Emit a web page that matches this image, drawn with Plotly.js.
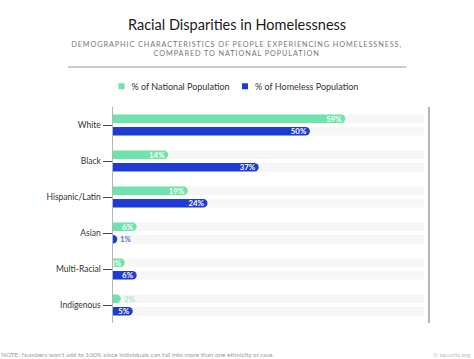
<!DOCTYPE html>
<html>
<head>
<meta charset="utf-8">
<script src="https://cdn.plot.ly/plotly-3.0.1.min.js"></script>
<style>
html,body{margin:0;padding:0;background:#fff;}
#chart{width:474px;height:359px;}
</style>
</head>
<body>
<div id="chart"></div>
<script>
const categories = ["White", "Black", "Hispanic/Latin", "Asian", "Multi-Racial", "Indigenous"];
const nationalPct = [59, 14, 19, 6, 3, 2];
const homelessPct = [50, 37, 24, 1, 6, 5];
const trackMax = 79;
const trackValues = categories.map(() => trackMax);

const GREEN = "#6fe3ad";
const BLUE = "#1f3bd6";
const FONT = "Lato, 'Open Sans', sans-serif";

function pos(vals){ return vals.map(v => v < 3 ? "outside" : "inside"); }
function tcol(vals, c){ return vals.map(v => v < 3 ? c : "#ffffff"); }

const W = 0.235;
const OFF_N = -0.29, OFF_H = 0.055;

const traces = [
  {type:"bar", orientation:"h", y:categories, x:trackValues, offset:OFF_N, width:W,
   marker:{color:"#f6f6f6"}, showlegend:false, hoverinfo:"skip"},
  {type:"bar", orientation:"h", y:categories, x:trackValues, offset:OFF_H, width:W,
   marker:{color:"#f6f6f6"}, showlegend:false, hoverinfo:"skip"},
  {type:"bar", orientation:"h", name:"% of National Population", y:categories, x:nationalPct,
   offset:OFF_N, width:W, marker:{color:GREEN},
   text:nationalPct.map(v => v + "%"), textposition:pos(nationalPct), insidetextanchor:"end",
   textfont:{family:FONT, size:7.8, weight:"bold", color:tcol(nationalPct, "#9ee9c6")},
   cliponaxis:false, constraintext:"none"},
  {type:"bar", orientation:"h", name:"% of Homeless Population", y:categories, x:homelessPct,
   offset:OFF_H, width:W, marker:{color:BLUE},
   text:homelessPct.map(v => v + "%"), textposition:pos(homelessPct), insidetextanchor:"end",
   textfont:{family:FONT, size:7.8, weight:"bold", color:tcol(homelessPct, "#5a6fe0")},
   cliponaxis:false, constraintext:"none"}
];

const layout = {
  width:474, height:359,
  margin:{l:113, r:46, t:107, b:36},
  paper_bgcolor:"#ffffff", plot_bgcolor:"#ffffff",
  barmode:"overlay",
  font:{family:FONT, color:"#333"},
  uniformtext:{mode:"show", minsize:7.8},
  showlegend:true,
  legend:{orientation:"h", x:0.5, xanchor:"center", y:0.76, yref:"container", yanchor:"middle",
          bgcolor:"rgba(0,0,0,0)", font:{size:9, color:"#333"}, traceorder:"normal"},
  xaxis:{range:[0,80], showgrid:false, zeroline:false, showticklabels:false, showline:false, fixedrange:true},
  yaxis:{type:"category", categoryorder:"array", categoryarray:categories, range:[5.5,-0.5],
         autorange:false, showline:true, linecolor:"#b5b5b5", linewidth:1.5, mirror:true,
         ticks:"outside", ticklen:9, tickcolor:"#444", tickwidth:1, showgrid:false,
         tickfont:{size:8.5, color:"#333"}, fixedrange:true},
  shapes:[
    {type:"line", xref:"paper", yref:"paper", x0:-0.143, x1:0.931, y0:1.185, y1:1.185,
     line:{color:"#9a9a9a", width:1}}
  ],
  annotations:[
    {text:"Racial Disparities in Homelessness", xref:"paper", yref:"paper", x:0.394, y:1.38,
     xanchor:"center", yanchor:"middle", showarrow:false, font:{size:14.5, color:"#1a1a1a"}},
    {text:"DEMOGRAPHIC CHARACTERISTICS OF PEOPLE EXPERIENCING HOMELESSNESS,<br>COMPARED TO NATIONAL POPULATION",
     xref:"paper", yref:"paper", x:0.394, y:1.27, xanchor:"center", yanchor:"middle", showarrow:false,
     align:"center", font:{size:7.3, color:"#777"}},
    {text:"NOTE: Numbers won't add to 100% since individuals can fall into more than one ethnicity or race.",
     xref:"paper", yref:"paper", x:-0.362, y:-0.148, xanchor:"left", yanchor:"middle", showarrow:false,
     font:{size:6.4, color:"#9a9a9a"}},
    {text:"⊙ security.org", xref:"paper", yref:"paper", x:1.14, y:-0.148, xanchor:"right", yanchor:"middle",
     showarrow:false, font:{size:6, color:"#bbbbbb"}}
  ]
};

function roundBarEnds(gd){
  const traceGroups = gd.querySelectorAll(".barlayer .trace.bars");
  traceGroups.forEach((g, ti) => {
    if (ti < 2) return;
    g.querySelectorAll(".point path").forEach(p => {
      const d = p.getAttribute("d") || "";
      if (/A/i.test(d)) return;
      const n = (d.match(/-?\d+(\.\d+)?/g) || []).map(Number);
      if (n.length < 4) return;
      const x0 = n[0], y0 = n[1], y1 = n[2], x1 = n[3];
      const top = Math.min(y0, y1), bot = Math.max(y0, y1);
      const r = (bot - top) / 2;
      const xe = Math.max(x0, x1 - r);
      p.setAttribute("d", `M${x0},${top}H${xe}A${r},${r} 0 0 1 ${xe},${bot}H${x0}Z`);
    });
  });
}

function parseT(el){
  const m = /translate\(\s*([-\d.e]+)[ ,]+([-\d.e]+)\s*\)/.exec(el.getAttribute("transform") || "");
  return m ? [parseFloat(m[1]), parseFloat(m[2])] : [0, 0];
}

Plotly.newPlot("chart", traces, layout, {displayModeBar:false, staticPlot:true}).then(gd => {
  const anns = document.querySelectorAll(".annotation-text");
  if (anns[1]) anns[1].style.letterSpacing = "0.9px";
  roundBarEnds(gd);
  const legend = gd.querySelector(".legend");
  if (!legend) return;
  legend.querySelectorAll(".legendtext").forEach(t => t.setAttribute("x", 30));
  legend.querySelectorAll(".legendpoints path").forEach(p => p.setAttribute("d", "M3,3H-3V-3H3Z"));
  const items = legend.querySelectorAll(".traces");
  if (items.length === 2) {
    const t0 = parseT(items[0]);
    items[1].setAttribute("transform", `translate(${t0[0] + 123.5},${t0[1]})`);
  }
  const sym = legend.querySelector(".legendpoints path");
  if (sym) {
    const b = sym.getBoundingClientRect();
    const cx = b.left + b.width / 2;
    const lt = parseT(legend);
    legend.setAttribute("transform", `translate(${lt[0] + (121.5 - cx)},${lt[1]})`);
  }
});
</script>
</body>
</html>
